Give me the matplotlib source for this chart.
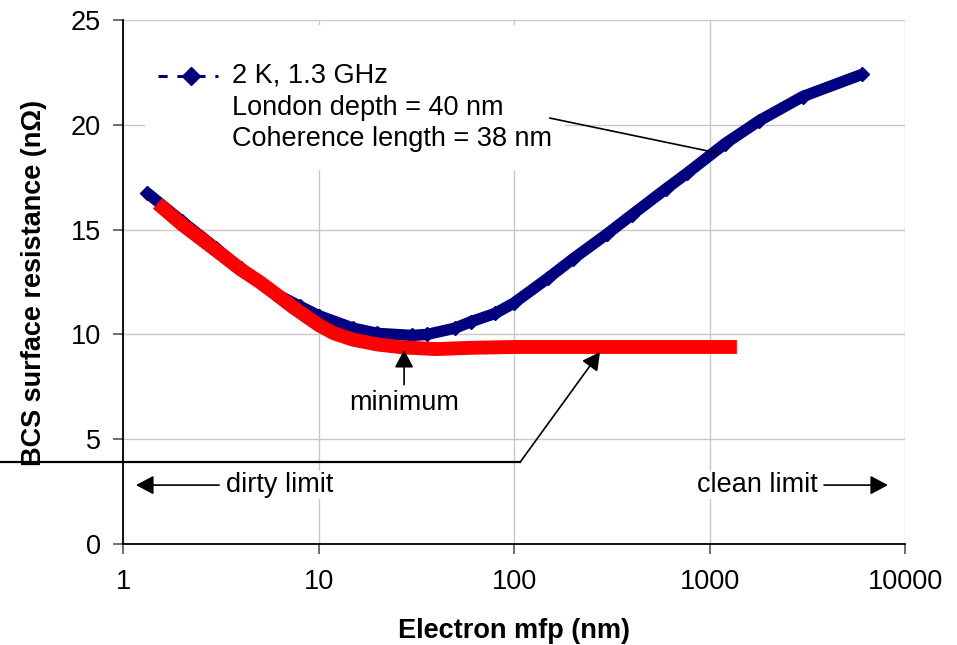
import matplotlib
matplotlib.use("Agg")
import matplotlib.pyplot as plt
from matplotlib.lines import Line2D
from matplotlib.patches import Rectangle

plt.rcParams['font.family'] = ['Liberation Sans', 'DejaVu Sans']

# ---- data ----
mfp_blue = [1.33, 2, 3, 4, 6, 8, 10, 15, 20, 30, 36, 50, 60, 80, 100,
            150, 200, 300, 400, 600, 770, 1200, 1800, 3000, 6000]
rs_blue = [16.75, 15.4, 14.1, 13.15, 11.95, 11.35, 10.9, 10.3, 10.05, 9.95, 10.0, 10.3, 10.6, 11.0, 11.5,
           12.7, 13.6, 14.8, 15.7, 16.95, 17.7, 19.1, 20.2, 21.35, 22.4]

mfp_red = [1.5, 2, 3, 4, 5, 6, 7.4, 10, 12, 15, 20, 27, 40, 60, 100, 300, 1000, 1380]
rs_red = [16.25, 15.25, 14.0, 13.1, 12.5, 11.95, 11.3, 10.45, 10.05, 9.75, 9.52, 9.38, 9.3, 9.36, 9.4, 9.4, 9.4, 9.4]

x_ticks = [1, 10, 100, 1000, 10000]
y_ticks = [0, 5, 10, 15, 20, 25]

NAVY = "#000080"
RED = "#ff0000"
FS = 19.5
ARROW = dict(arrowstyle="-|>,head_length=0.6,head_width=0.32", color="black", lw=1.2,
             mutation_scale=18, shrinkA=0, shrinkB=0)

fig = plt.figure(figsize=(9.57, 6.45), dpi=100)
ax = fig.add_axes([123 / 957, 1 - 544 / 645, 782 / 957, 524 / 645])

ax.set_xscale("log")
ax.set_xlim(1, 10000)
ax.set_ylim(0, 25)
ax.set_xticks(x_ticks)
ax.set_xticklabels([str(t) for t in x_ticks])
ax.set_yticks(y_ticks)
ax.minorticks_off()
ax.tick_params(axis="both", labelsize=FS, length=7, width=1.2, direction="out", color="#555555")
ax.tick_params(axis="y", pad=9)
ax.tick_params(axis="x", pad=11)

ax.grid(True, color="#c8c8c8", linewidth=1.0)
ax.set_axisbelow(True)
for s in ["top", "right"]:
    ax.spines[s].set_visible(False)
for s in ["left", "bottom"]:
    ax.spines[s].set_linewidth(1.3)

# white box behind the legend text
ax.add_patch(Rectangle((0.028, 0.714), 0.537, 0.276, transform=ax.transAxes,
                       facecolor="white", edgecolor="none", zorder=1.5))

# curves
ax.plot(mfp_blue, rs_blue, color=NAVY, lw=8.2, marker="D", ms=7,
        solid_capstyle="butt", solid_joinstyle="round", zorder=3)
ax.plot(mfp_red, rs_red, color=RED, lw=10, solid_capstyle="butt", solid_joinstyle="round", zorder=4)

# legend-like label
ax.add_line(Line2D([0.045, 0.122], [0.894, 0.894], transform=ax.transAxes, color=NAVY,
                   lw=2.2, ls=(0, (3, 3.2)), zorder=5))
ax.plot([0.087], [0.894], transform=ax.transAxes, color=NAVY, marker="D", ms=9, zorder=5)
ax.text(0.139, 0.894, "2 K, 1.3 GHz", transform=ax.transAxes, fontsize=FS, va="center", zorder=5)
ax.text(0.139, 0.833, "London depth = 40 nm", transform=ax.transAxes, fontsize=FS, va="center", zorder=5)
ax.text(0.139, 0.772, "Coherence length = 38 nm", transform=ax.transAxes, fontsize=FS, va="center", zorder=5)
ax.plot([152.8, 1105], [20.32, 18.65], color="black", lw=1.2, zorder=6)

# minimum arrow
ax.text(27.4, 6.73, "minimum", fontsize=FS, ha="center", va="center", zorder=6)
ax.annotate("", xy=(27.4, 9.26), xytext=(27.4, 7.6), zorder=6, arrowprops=ARROW)

# long pointer from outside the axes to the red plateau
ax.plot([-0.157, 0.508], [0.1565, 0.1565], transform=ax.transAxes, color="black", lw=1.6,
        clip_on=False, zorder=6)
ax.annotate("", xy=(0.61, 0.3664), xycoords="axes fraction", xytext=(0.508, 0.1565),
            textcoords="axes fraction", zorder=6, arrowprops=ARROW)

# dirty / clean limit
ax.text(3.36, 2.81, "dirty limit", fontsize=FS, ha="left", va="center",
        bbox=dict(facecolor="white", edgecolor="none", pad=1), zorder=6)
ax.annotate("", xy=(1.165, 2.81), xytext=(3.1, 2.81), zorder=6, arrowprops=ARROW)
ax.text(3590, 2.81, "clean limit", fontsize=FS, ha="right", va="center",
        bbox=dict(facecolor="white", edgecolor="none", pad=1), zorder=6)
ax.annotate("", xy=(8185, 2.81), xytext=(3853, 2.81), zorder=6, arrowprops=ARROW)

ax.set_xlabel("Electron mfp (nm)", fontsize=FS, fontweight="bold")
ax.set_ylabel("BCS surface resistance (n\u03a9)", fontsize=FS, fontweight="bold")
ax.xaxis.set_label_coords(0.5, -0.141)
ax.yaxis.set_label_coords(-0.097, 0.498)

fig.savefig("out.png", dpi=100)
